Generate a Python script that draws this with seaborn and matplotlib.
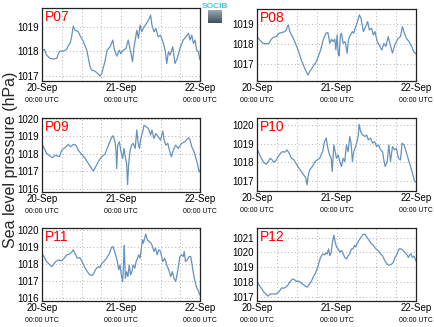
import numpy as np
import pandas as pd
import matplotlib
matplotlib.use("Agg")
import matplotlib.pyplot as plt
import matplotlib.dates as mdates
import seaborn as sns

# ---------------- data (hours since 20-Sep 00:00 UTC, pressure hPa) ----------------
p07_h = [0, 0.7, 1.4, 2.4, 3.4, 4.5, 5.0, 5.5, 6.5, 7.5, 8.0, 8.5, 9.0, 9.5, 10.0, 11.0, 11.5,
         12.6, 13.6, 14.6, 15.1, 16.1, 17.1, 17.6, 18.1, 19.1, 19.8, 20.7, 21.5, 21.9, 22.7, 23.5,
         23.9, 24.7, 25.5, 25.9, 26.2, 26.9, 27.5, 27.9, 28.8, 29.3, 29.8, 30.3, 31.0, 31.8, 32.6,
         33.0, 33.4, 34.0, 34.6, 35.3, 36.0, 36.9, 37.4, 37.9, 38.4, 38.9, 39.7, 40.4, 41.1, 41.9,
         42.9, 43.7, 44.5, 45.0, 45.5, 46.0, 46.5, 47.0, 47.5, 48.0]
p07_v = [1018.05, 1018.08, 1017.85, 1017.72, 1017.69, 1017.72, 1017.92, 1018.01, 1018.01, 1018.08,
         1018.24, 1018.32, 1018.59, 1019.03, 1018.86, 1018.80, 1018.66, 1018.39, 1018.05, 1017.38,
         1017.24, 1017.20, 1017.08, 1017.00, 1017.08, 1017.58, 1018.05, 1018.19, 1018.46, 1018.12,
         1017.81, 1018.05, 1017.92, 1018.05, 1018.12, 1018.32, 1018.46, 1017.99, 1017.58, 1018.12,
         1018.86, 1018.53, 1019.07, 1018.80, 1019.00, 1019.14, 1019.34, 1019.47, 1019.07, 1018.80,
         1018.93, 1018.59, 1018.66, 1018.32, 1018.05, 1017.51, 1017.99, 1017.85, 1018.19, 1017.51,
         1017.72, 1018.12, 1018.46, 1018.59, 1018.73, 1018.46, 1018.66, 1018.32, 1018.46, 1018.05,
         1017.99, 1017.65]

p08_h = [0, 0.8, 1.8, 2.8, 3.6, 4.3, 5.0, 5.8, 6.7, 7.4, 8.4, 8.9, 9.2, 9.5, 9.9, 10.7, 11.4, 12.4,
         13.4, 14.4, 15.1, 15.4, 15.9, 16.9, 17.9, 18.5, 19.2, 20.0, 20.8, 21.4, 22.0, 22.5, 23.0,
         23.5, 23.8, 24.2, 24.5, 24.8, 25.2, 25.5, 26.0, 26.6, 27.2, 27.6, 28.2, 28.8, 29.2, 29.8,
         30.2, 30.9, 31.4, 32.1, 32.8, 33.4, 33.9, 34.6, 35.1, 35.6, 36.3, 37.1, 37.7, 38.3, 38.9,
         39.6, 40.1, 40.9, 41.6, 42.6, 43.3, 43.9, 44.5, 45.1, 45.9, 46.7, 47.3, 48.0]
p08_v = [1018.37, 1018.21, 1018.04, 1018.01, 1018.04, 1018.24, 1018.34, 1018.37, 1018.54, 1018.57,
         1018.62, 1018.70, 1018.90, 1018.93, 1018.62, 1018.37, 1018.12, 1017.71, 1017.21, 1016.80,
         1016.55, 1016.47, 1016.64, 1016.88, 1017.13, 1017.38, 1017.71, 1018.21, 1018.54, 1018.57,
         1018.04, 1018.24, 1018.12, 1018.24, 1017.71, 1018.45, 1017.55, 1017.41, 1018.45, 1018.54,
         1018.04, 1018.12, 1017.55, 1018.21, 1018.45, 1018.62, 1018.54, 1018.87, 1019.03, 1019.45,
         1019.28, 1018.62, 1018.87, 1019.12, 1018.70, 1018.79, 1018.45, 1018.62, 1018.12, 1017.88,
         1017.71, 1018.04, 1017.88, 1018.37, 1018.04, 1017.55, 1017.96, 1018.29, 1018.37, 1018.87,
         1018.54, 1018.29, 1018.12, 1017.88, 1017.63, 1017.51]

p09_h = [0, 0.7, 1.4, 2.4, 3.2, 3.9, 4.7, 5.3, 6.0, 6.7, 7.3, 8.0, 8.7, 9.5, 10.3, 11.0, 12.1, 13.1,
         14.1, 15.1, 15.6, 16.3, 17.1, 18.1, 19.1, 19.6, 20.4, 21.0, 21.5, 21.9, 22.2, 22.5, 22.7,
         23.0, 23.5, 24.0, 24.5, 24.9, 25.3, 25.7, 26.0, 26.3, 26.7, 27.2, 27.7, 28.3, 28.8, 29.2,
         29.6, 30.0, 30.6, 31.0, 31.6, 32.3, 33.0, 33.4, 34.0, 34.6, 35.3, 36.0, 36.7, 37.1, 37.6,
         38.2, 38.7, 39.3, 39.9, 40.6, 41.4, 42.4, 43.4, 44.5, 45.0, 45.5, 46.2, 46.8, 47.3, 47.7, 48.0]
p09_v = [1018.54, 1018.31, 1018.02, 1017.87, 1017.77, 1017.92, 1017.88, 1017.83, 1018.21, 1018.31,
         1018.40, 1018.54, 1018.40, 1018.54, 1018.50, 1018.21, 1017.96, 1017.73, 1017.44, 1017.15,
         1017.00, 1017.25, 1017.54, 1017.83, 1017.96, 1018.21, 1018.60, 1018.88, 1019.04, 1018.88,
         1018.69, 1018.12, 1017.15, 1018.50, 1018.69, 1018.12, 1017.73, 1018.31, 1017.83, 1017.44,
         1016.23, 1017.35, 1018.12, 1018.50, 1018.60, 1018.31, 1019.37, 1018.60, 1018.31, 1018.88,
         1019.27, 1019.65, 1019.56, 1019.46, 1019.08, 1019.37, 1018.88, 1019.17, 1018.98, 1018.79,
         1019.31, 1018.79, 1018.50, 1018.60, 1018.21, 1017.83, 1018.21, 1018.50, 1018.31, 1018.60,
         1018.69, 1018.92, 1018.79, 1018.40, 1018.12, 1017.73, 1017.35, 1016.96, 1017.06]

p10_h = [0, 0.6, 1.3, 2.0, 2.8, 3.5, 4.0, 4.6, 5.0, 5.6, 6.4, 7.1, 7.7, 8.4, 9.1, 9.7, 10.4, 11.2,
         11.9, 12.7, 13.4, 14.1, 14.7, 15.1, 15.4, 15.9, 16.7, 17.4, 18.1, 18.9, 19.8, 20.4, 20.9,
         21.4, 21.9, 22.4, 22.7, 23.2, 23.6, 24.0, 24.5, 25.0, 25.5, 26.0, 26.5, 27.0, 27.5, 28.0,
         28.4, 28.8, 29.2, 29.6, 30.2, 30.6, 30.8, 31.3, 31.9, 32.6, 33.1, 33.6, 34.3, 34.9, 35.5,
         36.1, 36.7, 37.3, 37.9, 38.3, 38.7, 39.3, 39.8, 40.3, 40.9, 41.5, 42.1, 42.7, 43.3, 43.8,
         44.4, 45.0, 45.6, 46.2, 46.8, 47.2, 47.6, 48.0]
p10_v = [1018.75, 1018.48, 1018.21, 1018.00, 1017.89, 1018.07, 1018.21, 1018.12, 1018.00, 1018.07,
         1018.30, 1018.48, 1018.57, 1018.54, 1018.66, 1018.48, 1018.21, 1018.12, 1017.89, 1017.68,
         1017.50, 1017.32, 1017.18, 1016.79, 1017.23, 1017.59, 1017.77, 1018.00, 1018.12, 1018.21,
         1018.57, 1019.11, 1019.29, 1018.75, 1018.39, 1018.21, 1017.50, 1018.93, 1018.57, 1018.21,
         1018.39, 1018.04, 1017.77, 1018.21, 1018.04, 1018.93, 1018.57, 1019.38, 1019.02, 1018.04,
         1018.57, 1018.75, 1019.11, 1019.46, 1020.04, 1019.64, 1019.46, 1019.38, 1019.46, 1019.20,
         1019.29, 1019.02, 1019.11, 1018.84, 1018.93, 1018.66, 1018.57, 1018.12, 1017.77, 1018.04,
         1018.93, 1018.04, 1018.84, 1018.66, 1018.75, 1018.21, 1018.12, 1019.02, 1018.93, 1018.57,
         1018.21, 1017.86, 1017.50, 1017.23, 1016.96, 1016.93]

p11_h = [0, 0.6, 1.4, 2.2, 2.9, 3.4, 4.2, 5.0, 6.0, 6.7, 7.5, 8.3, 9.0, 9.5, 10.0, 10.7, 11.5, 12.4,
         13.1, 13.8, 14.4, 15.1, 15.6, 16.2, 16.6, 17.1, 17.6, 18.2, 18.8, 19.6, 20.5, 21.1, 21.5,
         21.9, 22.5, 22.9, 23.3, 23.7, 24.1, 24.5, 24.8, 25.0, 25.3, 25.7, 26.1, 26.5, 26.9, 27.3,
         27.7, 28.2, 28.6, 29.0, 29.4, 29.8, 30.2, 30.5, 30.8, 31.2, 31.5, 32.0, 32.6, 33.1, 33.6,
         34.0, 34.5, 35.0, 35.5, 36.0, 36.7, 37.3, 37.9, 38.5, 39.1, 39.6, 40.1, 40.6, 41.1, 41.5,
         41.9, 42.4, 42.9, 43.2, 43.6, 44.1, 44.7, 45.2, 45.6, 45.9, 46.4, 46.9, 47.5, 48.0]
p11_v = [1018.58, 1018.44, 1018.15, 1017.99, 1017.85, 1017.95, 1018.15, 1018.24, 1018.19, 1018.34,
         1018.54, 1018.58, 1018.69, 1018.83, 1018.63, 1018.34, 1018.38, 1018.05, 1017.76, 1017.56,
         1017.40, 1017.33, 1017.40, 1017.66, 1017.76, 1017.85, 1017.79, 1018.05, 1018.15, 1018.34,
         1018.63, 1018.97, 1019.02, 1018.83, 1018.44, 1018.15, 1017.66, 1017.95, 1017.37, 1016.98,
         1018.15, 1019.08, 1017.17, 1017.56, 1017.27, 1017.95, 1017.37, 1017.56, 1017.95, 1017.76,
         1018.15, 1018.34, 1018.54, 1018.34, 1018.93, 1019.41, 1019.22, 1019.51, 1019.75, 1019.41,
         1019.32, 1019.22, 1019.02, 1018.73, 1018.93, 1018.54, 1018.83, 1018.73, 1018.15, 1018.34,
         1017.95, 1017.66, 1017.27, 1017.56, 1017.17, 1016.98, 1017.46, 1017.95, 1018.44, 1018.54,
         1018.44, 1018.73, 1018.15, 1018.24, 1018.44, 1018.44, 1017.95, 1017.56, 1017.07, 1016.68,
         1016.43, 1016.20]

p12_h = [0, 0.6, 1.3, 2.0, 2.6, 3.3, 4.0, 4.8, 5.6, 6.4, 6.9, 7.4, 8.1, 8.7, 9.4, 10.1, 10.7, 11.3,
         11.9, 12.7, 13.4, 14.1, 14.7, 15.1, 15.7, 16.4, 17.1, 17.7, 18.3, 18.7, 19.2, 19.6, 20.0,
         20.4, 20.8, 21.2, 21.6, 22.0, 22.4, 22.8, 23.2, 23.6, 24.0, 24.5, 25.0, 25.5, 26.0, 26.5,
         27.0, 27.5, 28.0, 28.5, 29.0, 29.4, 29.8, 30.2, 30.8, 31.5, 32.1, 32.6, 33.1, 33.8, 34.5,
         35.1, 35.9, 36.6, 37.3, 37.9, 38.6, 39.3, 39.9, 40.6, 41.1, 41.7, 42.3, 42.9, 43.5, 44.1,
         44.6, 45.1, 45.7, 46.1, 46.5, 46.9, 47.4, 48.0]
p12_v = [1018.06, 1017.83, 1017.60, 1017.37, 1017.21, 1017.07, 1017.21, 1017.21, 1017.21, 1017.30,
         1017.44, 1017.62, 1017.60, 1017.67, 1017.83, 1018.06, 1018.22, 1018.17, 1018.06, 1018.06,
         1017.94, 1017.83, 1017.71, 1017.67, 1017.83, 1018.06, 1018.40, 1018.63, 1018.98, 1019.32,
         1019.67, 1019.83, 1019.90, 1019.83, 1019.97, 1019.90, 1020.24, 1019.78, 1020.01, 1020.70,
         1021.16, 1020.70, 1020.36, 1020.24, 1020.01, 1020.13, 1019.90, 1019.67, 1019.55, 1019.78,
         1019.90, 1020.24, 1020.24, 1020.47, 1020.36, 1020.59, 1020.82, 1021.05, 1021.21, 1021.21,
         1021.05, 1020.82, 1020.59, 1020.47, 1020.24, 1020.13, 1019.90, 1019.78, 1019.44, 1019.21,
         1019.14, 1019.21, 1019.32, 1019.67, 1019.90, 1020.24, 1020.24, 1020.13, 1020.01, 1019.90,
         1019.67, 1019.83, 1019.90, 1019.67, 1019.74, 1019.44]

names = ["P07", "P08", "P09", "P10", "P11", "P12"]
hours = [p07_h, p08_h, p09_h, p10_h, p11_h, p12_h]
values = [p07_v, p08_v, p09_v, p10_v, p11_v, p12_v]
ylims = [(1016.8, 1019.76), (1016.17, 1019.74), (1015.8, 1020.06),
         (1016.46, 1020.37), (1015.85, 1020.1), (1016.74, 1021.64)]
day_labels = ["20-Sep", "21-Sep", "22-Sep"]
time_label = "00:00 UTC"
ylabel = "Sea level pressure (hPa)"

# ---------------- figure ----------------
sns.set_theme(style="white")
plt.rcParams["font.family"] = ["Liberation Sans", "DejaVu Sans"]

W, H = 434, 327
fig = plt.figure(figsize=(W / 100, H / 100), dpi=100)

# pixel boxes: left, top, right, bottom
boxes = [(42, 8, 200, 81), (257, 9, 416, 81),
         (42, 118, 200, 192), (257, 118, 416, 191),
         (42, 228, 200, 301), (257, 228, 416, 301)]

start = pd.Timestamp("2013-09-20 00:00")
line_color = "#6592be"

for name, hh, vv, yl, (l, t, r, b) in zip(names, hours, values, ylims, boxes):
    ax = fig.add_axes([l / W, 1 - b / H, (r - l) / W, (b - t) / H])
    df = pd.DataFrame({"time": start + pd.to_timedelta(hh, unit="h"), "p": vv})
    sns.lineplot(data=df, x="time", y="p", ax=ax, color=line_color, linewidth=0.9)
    ax.set_xlim(start, start + pd.Timedelta(hours=48))
    ax.set_ylim(*yl)
    ax.set_xlabel("")
    ax.set_ylabel("")
    ax.xaxis.set_major_locator(mdates.DayLocator())
    ax.xaxis.set_minor_locator(mdates.HourLocator(byhour=[6, 12, 18]))
    ax.xaxis.set_major_formatter(mdates.DateFormatter("%d-%b"))
    ax.yaxis.set_major_locator(matplotlib.ticker.MultipleLocator(1))
    ax.yaxis.set_major_formatter(matplotlib.ticker.FormatStrFormatter("%d"))
    ax.grid(True, which="both", axis="x", linestyle=(0, (1, 2.5)), color="#b0b0b0", linewidth=0.7)
    ax.grid(True, which="major", axis="y", linestyle=(0, (1, 2.5)), color="#b0b0b0", linewidth=0.7)
    ax.tick_params(axis="both", which="both", length=0, pad=2, labelsize=7, colors="black")
    ax.tick_params(axis="x", pad=1.5)
    for s in ax.spines.values():
        s.set_color("#222222")
        s.set_linewidth(0.9)
    for i, d in enumerate(day_labels):
        ax.text(start + pd.Timedelta(days=i), -0.265, time_label, transform=ax.get_xaxis_transform(),
                ha="center", va="center", fontsize=5, color="black")
    ax.text(0.02, 0.97, name, transform=ax.transAxes, ha="left", va="top",
            fontsize=10, color="red")

fig.text(11 / W, 1 - 160 / H, ylabel, rotation=90, ha="center", va="center", fontsize=11.5)

# SOCIB logo
fig.text(215 / W, 1 - 6 / H, "SOCIB", ha="center", va="center", fontsize=6,
         color="#4cc3d9", fontweight="bold")
lax = fig.add_axes([208 / W, 1 - 23 / H, 14 / W, 13 / H])
grad = np.linspace(0, 1, 50).reshape(-1, 1)
lax.imshow(grad, aspect="auto", cmap=matplotlib.colors.LinearSegmentedColormap.from_list(
    "logo", ["#9aaab2", "#3c4f5a"]))
lax.axis("off")

fig.savefig("out.png", dpi=100)
